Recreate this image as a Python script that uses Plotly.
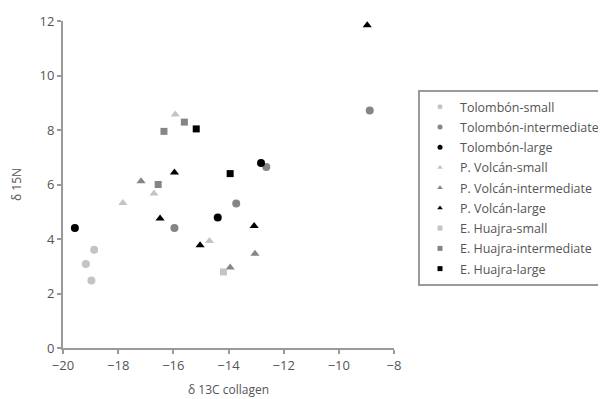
import plotly.graph_objects as go

# Data (δ13C collagen, δ15N)
series_names = [
    "Tolombón-small", "Tolombón-intermediate", "Tolombón-large",
    "P. Volcán-small", "P. Volcán-intermediate", "P. Volcán-large",
    "E. Huajra-small", "E. Huajra-intermediate", "E. Huajra-large",
]
tol_small_x = [-18.87, -19.17, -18.97]
tol_small_y = [3.61, 3.08, 2.48]
tol_inter_x = [-15.96, -13.72, -12.63, -8.88]
tol_inter_y = [4.40, 5.30, 6.64, 8.72]
tol_large_x = [-19.57, -14.39, -12.82]
tol_large_y = [4.40, 4.79, 6.79]
pv_small_x = [-17.83, -16.70, -15.93, -14.69]
pv_small_y = [5.32, 5.67, 8.57, 3.93]
pv_inter_x = [-17.17, -13.04, -13.94]
pv_inter_y = [6.12, 3.46, 2.95]
pv_large_x = [-15.96, -16.48, -15.03, -13.07, -8.97]
pv_large_y = [6.44, 4.75, 3.77, 4.48, 11.84]
eh_small_x = [-14.18]
eh_small_y = [2.79]
eh_inter_x = [-16.55, -15.60, -16.34]
eh_inter_y = [6.00, 8.29, 7.95]
eh_large_x = [-15.17, -13.94]
eh_large_y = [8.04, 6.40]

x_ticks = [-20, -18, -16, -14, -12, -10, -8]
y_ticks = [0, 2, 4, 6, 8, 10, 12]

xs = [tol_small_x, tol_inter_x, tol_large_x, pv_small_x, pv_inter_x, pv_large_x,
      eh_small_x, eh_inter_x, eh_large_x]
ys = [tol_small_y, tol_inter_y, tol_large_y, pv_small_y, pv_inter_y, pv_large_y,
      eh_small_y, eh_inter_y, eh_large_y]

LIGHT, MID, DARK = "#c4c4c4", "#858585", "#000000"
colors = [LIGHT, MID, DARK] * 3
symbols = ["circle"] * 3 + ["triangle-up"] * 3 + ["square"] * 3
sizes = [8, 8, 8, 8, 8, 8, 7, 7, 7]

fig = go.Figure()
for i, (name, x, y, c, s, sz) in enumerate(zip(series_names, xs, ys, colors, symbols, sizes)):
    fig.add_trace(go.Scatter(
        x=x, y=y, mode="markers", name=name, legendgroup=name, showlegend=False,
        marker=dict(color=c, symbol=s, size=sz, line=dict(width=0)),
    ))
    # legend entry with small symbol, as in the original
    fig.add_trace(go.Scatter(
        x=[None], y=[None], mode="markers", name=name, legendgroup=name, showlegend=True,
        marker=dict(color=c, symbol=s, size=5, line=dict(width=0)),
    ))

axis_common = dict(
    showgrid=False, zeroline=False, showline=True, linecolor="#9a9a9a", linewidth=2,
    ticks="outside", tickcolor="#9a9a9a", ticklen=4, tickwidth=1.5,
    tickfont=dict(color="#555555", size=13), automargin=False,
)

fig.update_layout(
    width=606, height=399,
    margin=dict(l=55, r=220, t=13, b=59),
    paper_bgcolor="white", plot_bgcolor="white",
    font=dict(family="Open Sans", color="#555555", size=12),
    xaxis=dict(range=[-20, -8], tickvals=x_ticks, tickformat="d",
               title=dict(text="δ 13C collagen", font=dict(size=12, color="#555555"), standoff=13),
               **axis_common),
    yaxis=dict(range=[0, 12], tickvals=y_ticks,
               title=dict(text="δ 15N", font=dict(size=12, color="#555555"), standoff=17),
               **axis_common),
    legend=dict(
        xref="container", yref="container",
        x=410 / 606, y=(399 - 82) / 399, xanchor="left", yanchor="top",
        bordercolor="#9a9a9a", borderwidth=2, bgcolor="white",
        font=dict(size=12.5, color="#555555"),
        itemsizing="trace", tracegroupgap=1, itemwidth=30,
    ),
)

fig.write_html("out.html")
